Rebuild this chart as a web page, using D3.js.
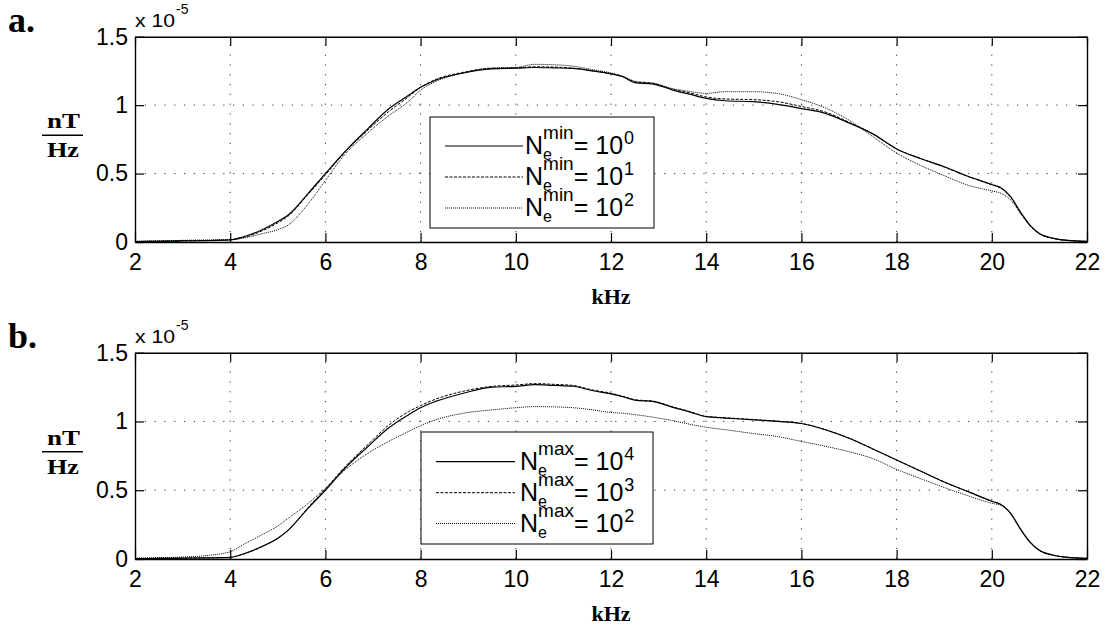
<!DOCTYPE html>
<html>
<head>
<meta charset="utf-8">
<script src="https://cdn.jsdelivr.net/npm/d3@7"></script>
<style>
  body { margin: 0; background: #fff; }
  svg { display: block; }
  .tick text { font-family: "Liberation Sans", Arial, sans-serif; }
</style>
</head>
<body>
<div id="chart"></div>
<script>
// frequency grid (kHz)
var freq = [2, 2.5, 3, 3.5, 4, 4.3, 4.66, 5, 5.22, 5.64, 6, 6.41, 6.9, 7.32, 7.74, 8, 8.3, 8.9, 9.5, 10,
  10.4, 10.8, 11.2, 11.6, 12, 12.25, 12.5, 12.9, 13.3, 13.65, 14, 14.4, 15, 15.5, 16, 16.5, 17, 17.5, 18,
  18.5, 19, 19.5, 20, 20.2, 20.4, 20.6, 20.8, 21, 21.3, 21.6, 22];

// panel a: Ne min (x 1e-5)
var minE0 = [0.003, 0.005, 0.008, 0.01, 0.015, 0.04, 0.088, 0.15, 0.197, 0.356, 0.50, 0.66, 0.83, 0.97, 1.07, 1.13, 1.18, 1.235, 1.265, 1.27,
  1.275, 1.272, 1.268, 1.25, 1.228, 1.207, 1.165, 1.154, 1.11, 1.08, 1.05, 1.032, 1.025, 1.005, 0.975, 0.94, 0.87, 0.79, 0.68,
  0.61, 0.55, 0.48, 0.42, 0.395, 0.33, 0.22, 0.124, 0.063, 0.027, 0.012, 0.004];
var minE1 = [0.004, 0.006, 0.009, 0.011, 0.016, 0.035, 0.08, 0.14, 0.19, 0.35, 0.49, 0.655, 0.82, 0.95, 1.06, 1.13, 1.185, 1.24, 1.27, 1.272,
  1.28, 1.278, 1.27, 1.252, 1.23, 1.21, 1.17, 1.158, 1.115, 1.09, 1.06, 1.045, 1.04, 1.025, 0.99, 0.95, 0.875, 0.79, 0.68,
  0.61, 0.548, 0.478, 0.418, 0.39, 0.325, 0.215, 0.12, 0.06, 0.026, 0.011, 0.004];
var minE2 = [0.005, 0.008, 0.012, 0.015, 0.018, 0.03, 0.06, 0.09, 0.124, 0.28, 0.45, 0.64, 0.80, 0.92, 1.025, 1.11, 1.17, 1.235, 1.27, 1.275,
  1.298, 1.295, 1.285, 1.26, 1.235, 1.21, 1.175, 1.16, 1.12, 1.10, 1.086, 1.098, 1.098, 1.085, 1.04, 0.98, 0.89, 0.77, 0.65,
  0.56, 0.485, 0.415, 0.373, 0.355, 0.305, 0.21, 0.12, 0.06, 0.025, 0.011, 0.004];

// panel b: Ne max (x 1e-5)
var maxE4 = [0.003, 0.004, 0.006, 0.008, 0.012, 0.04, 0.09, 0.15, 0.21, 0.37, 0.50, 0.66, 0.82, 0.95, 1.047, 1.10, 1.144, 1.205, 1.25, 1.255,
  1.268, 1.262, 1.256, 1.225, 1.20, 1.18, 1.155, 1.144, 1.103, 1.07, 1.035, 1.025, 1.012, 1.0, 0.985, 0.94, 0.878, 0.80, 0.72,
  0.64, 0.56, 0.49, 0.42, 0.395, 0.33, 0.22, 0.124, 0.063, 0.027, 0.012, 0.004];
var maxE3 = [0.003, 0.004, 0.006, 0.008, 0.012, 0.038, 0.088, 0.15, 0.21, 0.375, 0.51, 0.67, 0.835, 0.97, 1.07, 1.115, 1.16, 1.22, 1.255, 1.265,
  1.275, 1.27, 1.262, 1.23, 1.205, 1.183, 1.158, 1.147, 1.106, 1.072, 1.037, 1.027, 1.014, 1.002, 0.986, 0.941, 0.879, 0.80, 0.72,
  0.64, 0.56, 0.49, 0.42, 0.395, 0.33, 0.22, 0.124, 0.063, 0.027, 0.012, 0.004];
var maxE2 = [0.006, 0.01, 0.014, 0.025, 0.053, 0.11, 0.175, 0.24, 0.296, 0.405, 0.514, 0.647, 0.77, 0.853, 0.926, 0.97, 1.01, 1.06, 1.084, 1.10,
  1.108, 1.106, 1.10, 1.085, 1.065, 1.06, 1.05, 1.03, 1.006, 0.98, 0.958, 0.94, 0.912, 0.89, 0.855, 0.82, 0.78, 0.73, 0.652,
  0.585, 0.52, 0.46, 0.405, 0.39, 0.325, 0.215, 0.12, 0.06, 0.026, 0.011, 0.004];

// short coloured traces under the curves near 2 kHz
var lowFreq = [2, 2.95];
var lowA = [0.002, 0.003];
var lowB = [0.002, 0.003];

var xTicks = [2, 4, 6, 8, 10, 12, 14, 16, 18, 20, 22];
var yTicks = [0, 0.5, 1, 1.5];

var width = 1110, height = 633;
var svg = d3.select("#chart").append("svg")
  .attr("width", width)
  .attr("height", height);

var styles = {
  solid: { dash: null, w: 1.2 },
  dashed: { dash: "3,1.5", w: 1 },
  dotted: { dash: "1,1", w: 1 }
};

var panels = [
  {
    letter: "a.", top: 36.7, bottom: 242, sup: "min",
    series: [
      { vals: minE0, style: "solid", exp: "0" },
      { vals: minE1, style: "dashed", exp: "1" },
      { vals: minE2, style: "dotted", exp: "2" }
    ],
    low: lowA, lowColor: "#1a9a5a",
    legend: { x0: 430, x1: 654, y0: 117, y1: 228, lx0: 445, lx1: 523, tx: 525, rows: [146, 177, 208] }
  },
  {
    letter: "b.", top: 352.7, bottom: 559, sup: "max",
    series: [
      { vals: maxE4, style: "solid", exp: "4" },
      { vals: maxE3, style: "dashed", exp: "3" },
      { vals: maxE2, style: "dotted", exp: "2" }
    ],
    low: lowB, lowColor: "#c0302a",
    legend: { x0: 421, x1: 653, y0: 432, y1: 544, lx0: 436, lx1: 515, tx: 520, rows: [461.7, 492.7, 523.5] }
  }
];

var x = d3.scaleLinear().domain([2, 22]).range([135, 1087]);
var sans = "Liberation Sans, Arial, sans-serif";
var serif = "Liberation Serif, Times New Roman, serif";

panels.forEach(function(p) {
  var y = d3.scaleLinear().domain([0, 1.5]).range([p.bottom, p.top]);
  var g = svg.append("g");

  // grid
  g.selectAll(".vgrid").data(xTicks.slice(1, -1)).enter().append("line")
    .attr("x1", function(d) { return x(d); }).attr("x2", function(d) { return x(d); })
    .attr("y1", p.bottom).attr("y2", p.top)
    .attr("stroke", "#333").attr("stroke-width", 1).attr("stroke-dasharray", "1.2,8.6");
  g.selectAll(".hgrid").data(yTicks.slice(1, -1)).enter().append("line")
    .attr("y1", function(d) { return y(d); }).attr("y2", function(d) { return y(d); })
    .attr("x1", x(2)).attr("x2", x(22))
    .attr("stroke", "#333").attr("stroke-width", 1).attr("stroke-dasharray", "1.2,8.6");

  // coloured bit near 2 kHz
  g.append("path")
    .datum(lowFreq.map(function(f, i) { return [f, p.low[i]]; }))
    .attr("fill", "none").attr("stroke", p.lowColor).attr("stroke-width", 1.5)
    .attr("d", d3.line().x(function(d) { return x(d[0]); }).y(function(d) { return y(d[1]); }));

  // curves
  var line = d3.line()
    .x(function(d) { return x(d[0]); })
    .y(function(d) { return y(d[1]); })
    .curve(d3.curveMonotoneX);
  p.series.slice().reverse().forEach(function(s) {
    var st = styles[s.style];
    g.append("path")
      .datum(freq.map(function(f, i) { return [f, s.vals[i]]; }))
      .attr("fill", "none")
      .attr("stroke", "#000")
      .attr("stroke-width", st.w)
      .attr("stroke-dasharray", st.dash)
      .attr("d", line);
  });

  // axes (ticks inward, box all round)
  var fmt = function(d) { return String(d); };
  g.append("g").attr("transform", "translate(0," + p.bottom + ")")
    .call(d3.axisBottom(x).tickValues(xTicks).tickFormat(fmt).tickSizeInner(-9).tickSizeOuter(0).tickPadding(12))
    .classed("axis", true);
  g.append("g").attr("transform", "translate(0," + p.top + ")")
    .call(d3.axisTop(x).tickValues(xTicks).tickFormat("").tickSizeInner(-9).tickSizeOuter(0))
    .classed("axis", true);
  g.append("g").attr("transform", "translate(" + x(2) + ",0)")
    .call(d3.axisLeft(y).tickValues(yTicks).tickFormat(fmt).tickSizeInner(-9).tickSizeOuter(0).tickPadding(7))
    .classed("axis", true);
  g.append("g").attr("transform", "translate(" + x(22) + ",0)")
    .call(d3.axisRight(y).tickValues(yTicks).tickFormat("").tickSizeInner(-9).tickSizeOuter(0))
    .classed("axis", true);

  g.selectAll(".axis .domain").attr("stroke", "#000").attr("stroke-width", 1.4);
  g.selectAll(".axis line").attr("stroke", "#000").attr("stroke-width", 1.2);
  g.selectAll(".axis text").attr("font-size", 23).attr("fill", "#000");

  // x 10^-5
  g.append("text").attr("x", 135).attr("y", p.top - 10)
    .attr("font-family", sans).attr("font-size", 18)
    .attr("textLength", 40).attr("lengthAdjust", "spacingAndGlyphs").text("x 10");
  g.append("text").attr("x", 176).attr("y", p.top - 23)
    .attr("font-family", sans).attr("font-size", 14).text("-5");

  // panel letter
  g.append("text").attr("x", 8).attr("y", p.top - 5)
    .attr("font-family", serif)
    .attr("font-weight", "bold").attr("font-size", 36).text(p.letter);

  // y label as fraction nT / Hz
  var fy = (p.top + p.bottom) / 2 - 4;
  g.append("line").attr("x1", 42).attr("x2", 83).attr("y1", fy).attr("y2", fy)
    .attr("stroke", "#000").attr("stroke-width", 1.5);
  g.append("text").attr("x", 47).attr("y", fy - 7)
    .attr("font-family", serif).attr("font-weight", "bold").attr("font-size", 22)
    .attr("textLength", 33).attr("lengthAdjust", "spacingAndGlyphs").text("nT");
  g.append("text").attr("x", 47).attr("y", fy + 22)
    .attr("font-family", serif).attr("font-weight", "bold").attr("font-size", 22)
    .attr("textLength", 32).attr("lengthAdjust", "spacingAndGlyphs").text("Hz");

  // x label
  g.append("text").attr("x", x(12)).attr("y", p.bottom + 62).attr("text-anchor", "middle")
    .attr("font-family", serif).attr("font-weight", "bold").attr("font-size", 22).text("kHz");

  // legend
  var L = p.legend;
  g.append("rect").attr("x", L.x0).attr("y", L.y0).attr("width", L.x1 - L.x0).attr("height", L.y1 - L.y0)
    .attr("fill", "#fff").attr("stroke", "#000").attr("stroke-width", 1);
  p.series.forEach(function(s, i) {
    var st = styles[s.style];
    var ry = L.rows[i];
    g.append("line").attr("x1", L.lx0).attr("x2", L.lx1).attr("y1", ry).attr("y2", ry)
      .attr("stroke", "#000").attr("stroke-width", st.w).attr("stroke-dasharray", st.dash);
    // one text per entry: N, subscript e, superscript (stacked over e), "= 10", exponent
    var t = g.append("text").attr("x", L.tx).attr("y", ry + 8)
      .attr("font-family", sans).attr("font-size", 25);
    t.append("tspan").text("N");
    var sub = t.append("tspan").attr("font-size", 16).attr("dy", 6).text("e");
    var wSub = sub.node().getComputedTextLength();
    t.append("tspan").attr("font-size", 19).attr("dx", -wSub).attr("dy", -21).text(p.sup);
    t.append("tspan").attr("dy", 15).text("= 10");
    t.append("tspan").attr("font-size", 18).attr("dx", 1).attr("dy", -10).text(s.exp);
  });
});
</script>
</body>
</html>
